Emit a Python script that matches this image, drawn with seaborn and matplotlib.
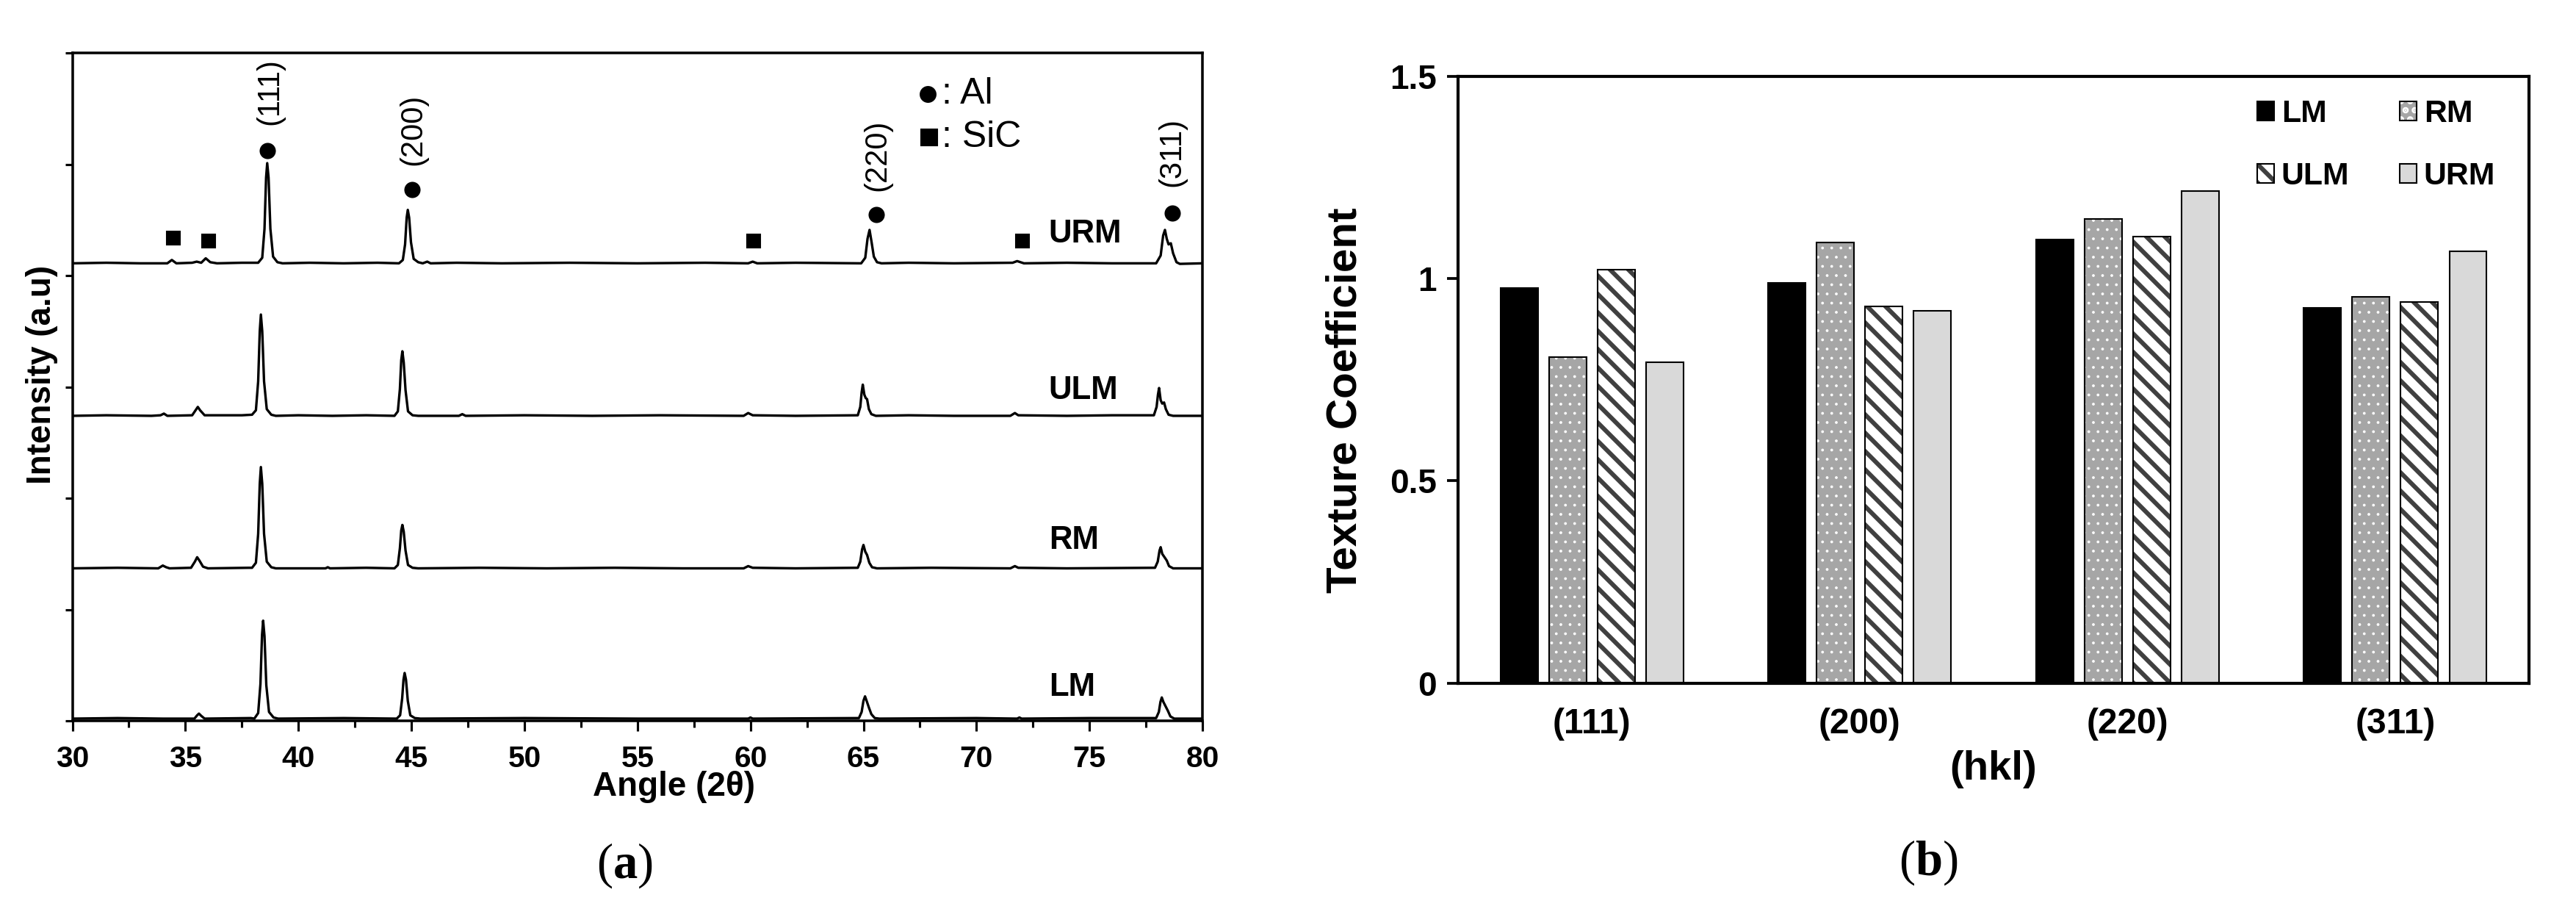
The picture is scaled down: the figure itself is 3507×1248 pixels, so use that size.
import matplotlib
matplotlib.use("Agg")
import matplotlib.pyplot as plt
import seaborn as sns
import pandas as pd
from matplotlib.patches import Patch
from matplotlib.ticker import MultipleLocator
from matplotlib.colors import to_rgba

# ---------------- panel (a): XRD patterns (angle, intensity) ----------------
URM_pts = [(30.0, 4.11), (31.5, 4.115), (33.0, 4.11), (34.2, 4.11), (34.4, 4.14), (34.6, 4.11),
           (35.3, 4.115), (35.5, 4.125), (35.7, 4.115), (35.9, 4.155), (36.1, 4.12), (36.4, 4.11),
           (37.5, 4.115), (38.22, 4.115), (38.40, 4.16), (38.50, 4.42), (38.57, 4.88), (38.62, 5.01),
           (38.68, 4.88), (38.76, 4.42), (38.88, 4.17), (39.07, 4.12), (39.3, 4.11), (40.5, 4.115),
           (42.0, 4.11), (43.5, 4.115), (44.45, 4.11), (44.62, 4.14), (44.72, 4.28), (44.79, 4.52),
           (44.84, 4.59), (44.90, 4.52), (44.98, 4.30), (45.10, 4.15), (45.30, 4.12), (45.50, 4.11),
           (45.70, 4.125), (45.85, 4.11), (47.0, 4.115), (49.0, 4.11), (52.0, 4.115), (55.0, 4.11),
           (58.0, 4.115), (59.9, 4.11), (60.1, 4.125), (60.3, 4.11), (62.0, 4.115), (64.9, 4.11),
           (65.08, 4.16), (65.18, 4.33), (65.27, 4.41), (65.36, 4.30), (65.46, 4.17), (65.60, 4.12),
           (65.80, 4.11), (67.0, 4.115), (69.0, 4.11), (71.6, 4.115), (71.8, 4.13), (71.95, 4.12),
           (72.1, 4.11), (74.0, 4.115), (76.0, 4.11), (77.95, 4.11), (78.15, 4.18), (78.26, 4.36),
           (78.34, 4.41), (78.42, 4.33), (78.50, 4.28), (78.60, 4.29), (78.70, 4.20), (78.85, 4.12),
           (79.0, 4.105), (80.0, 4.11)]

ULM_pts = [(30.0, 2.74), (31.5, 2.745), (33.5, 2.74), (33.9, 2.745), (34.05, 2.76), (34.2, 2.74),
           (35.3, 2.745), (35.45, 2.79), (35.55, 2.82), (35.65, 2.79), (35.85, 2.745), (37.5, 2.745),
           (37.95, 2.75), (38.12, 2.79), (38.22, 3.05), (38.29, 3.50), (38.34, 3.65), (38.40, 3.50),
           (38.48, 3.05), (38.60, 2.80), (38.80, 2.75), (39.0, 2.74), (40.0, 2.745), (41.5, 2.74),
           (43.0, 2.745), (44.25, 2.74), (44.40, 2.78), (44.49, 2.98), (44.55, 3.24), (44.60, 3.32),
           (44.66, 3.22), (44.74, 2.97), (44.85, 2.78), (45.05, 2.745), (45.3, 2.74), (47.1, 2.74),
           (47.25, 2.755), (47.4, 2.74), (50.0, 2.745), (53.0, 2.74), (56.0, 2.745), (59.7, 2.74),
           (59.9, 2.765), (60.1, 2.745), (62.0, 2.74), (64.75, 2.745), (64.86, 2.82), (64.92, 2.95),
           (64.97, 3.02), (65.04, 2.93), (65.10, 2.90), (65.16, 2.89), (65.24, 2.80), (65.35, 2.755),
           (65.55, 2.74), (67.0, 2.745), (69.0, 2.74), (71.5, 2.74), (71.7, 2.765), (71.85, 2.745),
           (74.0, 2.74), (76.0, 2.745), (77.85, 2.745), (77.97, 2.82), (78.03, 2.93), (78.08, 2.99),
           (78.15, 2.88), (78.22, 2.85), (78.30, 2.86), (78.38, 2.80), (78.50, 2.75), (78.70, 2.74),
           (80.0, 2.74)]

RM_pts = [(30.0, 1.37), (32.0, 1.375), (33.8, 1.37), (34.0, 1.395), (34.15, 1.38), (34.3, 1.37),
          (35.25, 1.375), (35.42, 1.43), (35.52, 1.47), (35.62, 1.44), (35.78, 1.385), (36.0, 1.37),
          (37.8, 1.375), (37.95, 1.375), (38.12, 1.42), (38.22, 1.68), (38.29, 2.13), (38.34, 2.28),
          (38.40, 2.13), (38.48, 1.68), (38.60, 1.43), (38.80, 1.38), (39.0, 1.37), (41.2, 1.37),
          (41.3, 1.38), (41.4, 1.37), (43.0, 1.375), (44.25, 1.37), (44.40, 1.40), (44.49, 1.55),
          (44.55, 1.71), (44.60, 1.76), (44.66, 1.70), (44.74, 1.53), (44.85, 1.40), (45.05, 1.375),
          (45.3, 1.37), (48.0, 1.375), (51.0, 1.37), (54.0, 1.375), (57.0, 1.37), (59.7, 1.37),
          (59.9, 1.39), (60.1, 1.375), (62.0, 1.37), (64.75, 1.375), (64.86, 1.43), (64.94, 1.54),
          (65.0, 1.58), (65.08, 1.52), (65.16, 1.49), (65.26, 1.42), (65.38, 1.38), (65.6, 1.37),
          (68.0, 1.375), (71.5, 1.37), (71.7, 1.39), (71.85, 1.375), (74.0, 1.37), (77.9, 1.375),
          (78.02, 1.43), (78.10, 1.53), (78.15, 1.56), (78.22, 1.50), (78.32, 1.47), (78.42, 1.44),
          (78.52, 1.39), (78.70, 1.37), (80.0, 1.37)]

LM_pts = [(30.0, 0.02), (32.0, 0.025), (34.0, 0.02), (35.4, 0.02), (35.52, 0.05), (35.6, 0.065),
          (35.7, 0.045), (35.85, 0.02), (37.9, 0.025), (38.05, 0.02), (38.22, 0.07), (38.32, 0.33),
          (38.39, 0.77), (38.44, 0.90), (38.50, 0.76), (38.58, 0.32), (38.70, 0.08), (38.90, 0.03),
          (39.1, 0.02), (42.0, 0.025), (44.35, 0.02), (44.50, 0.05), (44.59, 0.20), (44.65, 0.37),
          (44.70, 0.43), (44.76, 0.37), (44.84, 0.18), (44.95, 0.05), (45.15, 0.025), (45.4, 0.02),
          (50.0, 0.025), (55.0, 0.02), (59.9, 0.02), (60.0, 0.03), (60.1, 0.02), (64.8, 0.025),
          (64.92, 0.08), (65.0, 0.18), (65.07, 0.22), (65.14, 0.18), (65.24, 0.12), (65.35, 0.06),
          (65.5, 0.025), (65.7, 0.02), (70.0, 0.025), (71.8, 0.02), (71.9, 0.03), (72.0, 0.02),
          (75.0, 0.025), (77.95, 0.025), (78.07, 0.08), (78.14, 0.17), (78.20, 0.21), (78.27, 0.17),
          (78.37, 0.13), (78.47, 0.09), (78.58, 0.04), (78.75, 0.02), (80.0, 0.02)]

trace_names = ["URM", "ULM", "RM", "LM"]
trace_label_x = 73.2
trace_label_y = [4.37, 2.97, 1.62, 0.30]

al_peak_x = [38.62, 45.04, 65.56, 78.65]
al_peak_y = [5.12, 4.77, 4.55, 4.56]
al_hkl = ["(111)", "(200)", "(220)", "(311)"]
al_hkl_x = [38.73, 45.07, 65.60, 78.65]
al_hkl_y = [5.65, 5.31, 5.08, 5.11]
sic_peak_x = [34.47, 36.03, 60.14, 72.03]
sic_peak_y = [4.34, 4.31, 4.31, 4.31]

# ---------------- panel (b): texture coefficients ----------------
hkl = ["(111)", "(200)", "(220)", "(311)"]
samples = ["LM", "RM", "ULM", "URM"]
tc_LM = [0.977, 0.989, 1.097, 0.927]
tc_RM = [0.805, 1.090, 1.147, 0.955]
tc_ULM = [1.022, 0.931, 1.103, 0.942]
tc_URM = [0.794, 0.920, 1.216, 1.067]

# ---------------- style ----------------
sns.set_style("ticks")
plt.rcParams["font.family"] = ["Liberation Sans", "DejaVu Sans"]
plt.rcParams["axes.edgecolor"] = "black"
plt.rcParams["xtick.color"] = "black"
plt.rcParams["ytick.color"] = "black"
plt.rcParams["text.color"] = "black"
plt.rcParams["axes.labelcolor"] = "black"
plt.rcParams["mathtext.fontset"] = "custom"
plt.rcParams["mathtext.rm"] = "Liberation Serif"
plt.rcParams["mathtext.bf"] = "Liberation Serif:bold"
plt.rcParams["hatch.linewidth"] = 2.9

DPI = 150
fig = plt.figure(figsize=(3507 / DPI, 1248 / DPI), dpi=DPI, facecolor="white")

# ================= panel (a) =================
axA = fig.add_axes([0.0281, 0.2139, 0.4387, 0.7284])
traces = {"URM": URM_pts, "ULM": ULM_pts, "RM": RM_pts, "LM": LM_pts}
for name in trace_names:
    pts = traces[name]
    xs = [p[0] for p in pts]
    ys = [p[1] for p in pts]
    sns.lineplot(x=xs, y=ys, ax=axA, color="black", linewidth=1.6,
                 estimator=None, sort=False, legend=False)

for name, ty in zip(trace_names, trace_label_y):
    axA.text(trace_label_x, ty, name, ha="left", va="center",
             fontsize=21, fontweight="bold")

axA.plot(al_peak_x, al_peak_y, linestyle="none", marker="o", color="black", markersize=9.6)
axA.plot(sic_peak_x, sic_peak_y, linestyle="none", marker="s", color="black", markersize=9.0)
for lab, lx, ly in zip(al_hkl, al_hkl_x, al_hkl_y):
    axA.text(lx, ly, lab, rotation=90, ha="center", va="center", fontsize=20)

# key for phase symbols
axA.plot([67.85], [5.63], linestyle="none", marker="o", color="black", markersize=10)
axA.text(68.45, 5.63, ": Al", ha="left", va="center", fontsize=24)
axA.plot([67.90], [5.24], linestyle="none", marker="s", color="black", markersize=11)
axA.text(68.45, 5.24, ": SiC", ha="left", va="center", fontsize=24)

axA.set_xlim(30, 80)
axA.set_ylim(0, 6)
axA.set_xticks(list(range(30, 81, 5)))
axA.xaxis.set_minor_locator(MultipleLocator(2.5))
axA.set_yticks(list(range(0, 7)))
axA.tick_params(axis="x", which="major", direction="out", length=6.7, width=1.5,
                labelsize=19.5, pad=9, top=False)
axA.tick_params(axis="x", which="minor", direction="out", length=4.3, width=1.5, top=False)
axA.tick_params(axis="y", which="both", direction="out", length=4.8, width=1.5,
                labelleft=False, right=False)
for lbl in axA.get_xticklabels():
    lbl.set_fontweight("bold")
for sp in axA.spines.values():
    sp.set_linewidth(1.7)
    sp.set_visible(True)

axA.set_xlabel("Angle (2θ)", fontsize=22, fontweight="bold")
axA.xaxis.label.set_va("center")
axA.xaxis.set_label_coords(0.5326, -0.099)
axA.set_ylabel("Intensity (a.u)", fontsize=22, fontweight="bold")
axA.yaxis.label.set_va("center")
axA.yaxis.set_label_coords(-0.027, 0.518)

# ================= panel (b) =================
axB = fig.add_axes([0.5660, 0.2552, 0.4158, 0.6615])
df = pd.DataFrame({
    "hkl": hkl * 4,
    "sample": [s for s in samples for _ in hkl],
    "tc": tc_LM + tc_RM + tc_ULM + tc_URM,
})
palette = {"LM": "#000000", "RM": "#a6a6a6", "ULM": "#ffffff", "URM": "#d9d9d9"}
hatches = {"LM": "", "RM": "..", "ULM": "\\\\", "URM": ""}
hatch_colors = {"LM": "black", "RM": "white", "ULM": "#404040", "URM": "black"}
hatch_lw = {"LM": 1.0, "RM": 0.6, "ULM": 2.9, "URM": 1.0}

sns.barplot(data=df, x="hkl", y="tc", hue="sample", order=hkl, hue_order=samples,
            palette=palette, saturation=1, edgecolor="black", linewidth=1.0,
            width=0.725, gap=0.23, errorbar=None, legend=False, ax=axB)


def style_patch(p, s):
    p.set_edgecolor("black")
    p.set_linewidth(1.0)
    p.set_hatch(hatches[s])
    p._hatch_color = to_rgba(hatch_colors[s])
    if hasattr(p, "set_hatch_linewidth"):
        p.set_hatch_linewidth(hatch_lw[s])


for cont, s in zip(axB.containers, samples):
    for p in cont:
        style_patch(p, s)

handles = []
for s in samples:
    h = Patch(facecolor=palette[s], label=s)
    style_patch(h, s)
    handles.append(h)
order = [0, 2, 1, 3]
leg = axB.legend([handles[i] for i in order], [samples[i] for i in order], ncol=2,
                 loc="upper right", bbox_to_anchor=(0.983, 0.988), frameon=False,
                 handlelength=0.54, handleheight=0.54, handletextpad=0.23,
                 columnspacing=1.6, labelspacing=1.05, borderpad=0.0,
                 prop={"weight": "bold", "size": 20.5})

axB.set_xlim(-0.5, 3.5)
axB.set_ylim(0, 1.5)
axB.set_yticks([0, 0.5, 1.0, 1.5])
axB.set_yticklabels(["0", "0.5", "1", "1.5"])
axB.tick_params(axis="y", direction="out", length=7, width=1.8, labelsize=22, pad=7, right=False)
axB.tick_params(axis="x", length=0, labelsize=23, pad=16)
for lbl in axB.get_xticklabels() + axB.get_yticklabels():
    lbl.set_fontweight("bold")
for sp in axB.spines.values():
    sp.set_linewidth(2.0)
    sp.set_visible(True)

axB.set_xlabel("(hkl)", fontsize=27, fontweight="bold")
axB.xaxis.label.set_va("center")
axB.xaxis.set_label_coords(0.5, -0.142)
axB.set_ylabel("Texture Coefficient", fontsize=28, fontweight="bold")
axB.yaxis.label.set_va("center")
axB.yaxis.set_label_coords(-0.105, 0.466)

# panel letters
fig.text(0.2424, 0.0561, r"($\mathbf{a}$)", ha="center", va="center", fontsize=32,
         family="Liberation Serif")
fig.text(0.7485, 0.0593, r"($\mathbf{b}$)", ha="center", va="center", fontsize=32,
         family="Liberation Serif")

fig.savefig("out.png", dpi=DPI, facecolor="white")
